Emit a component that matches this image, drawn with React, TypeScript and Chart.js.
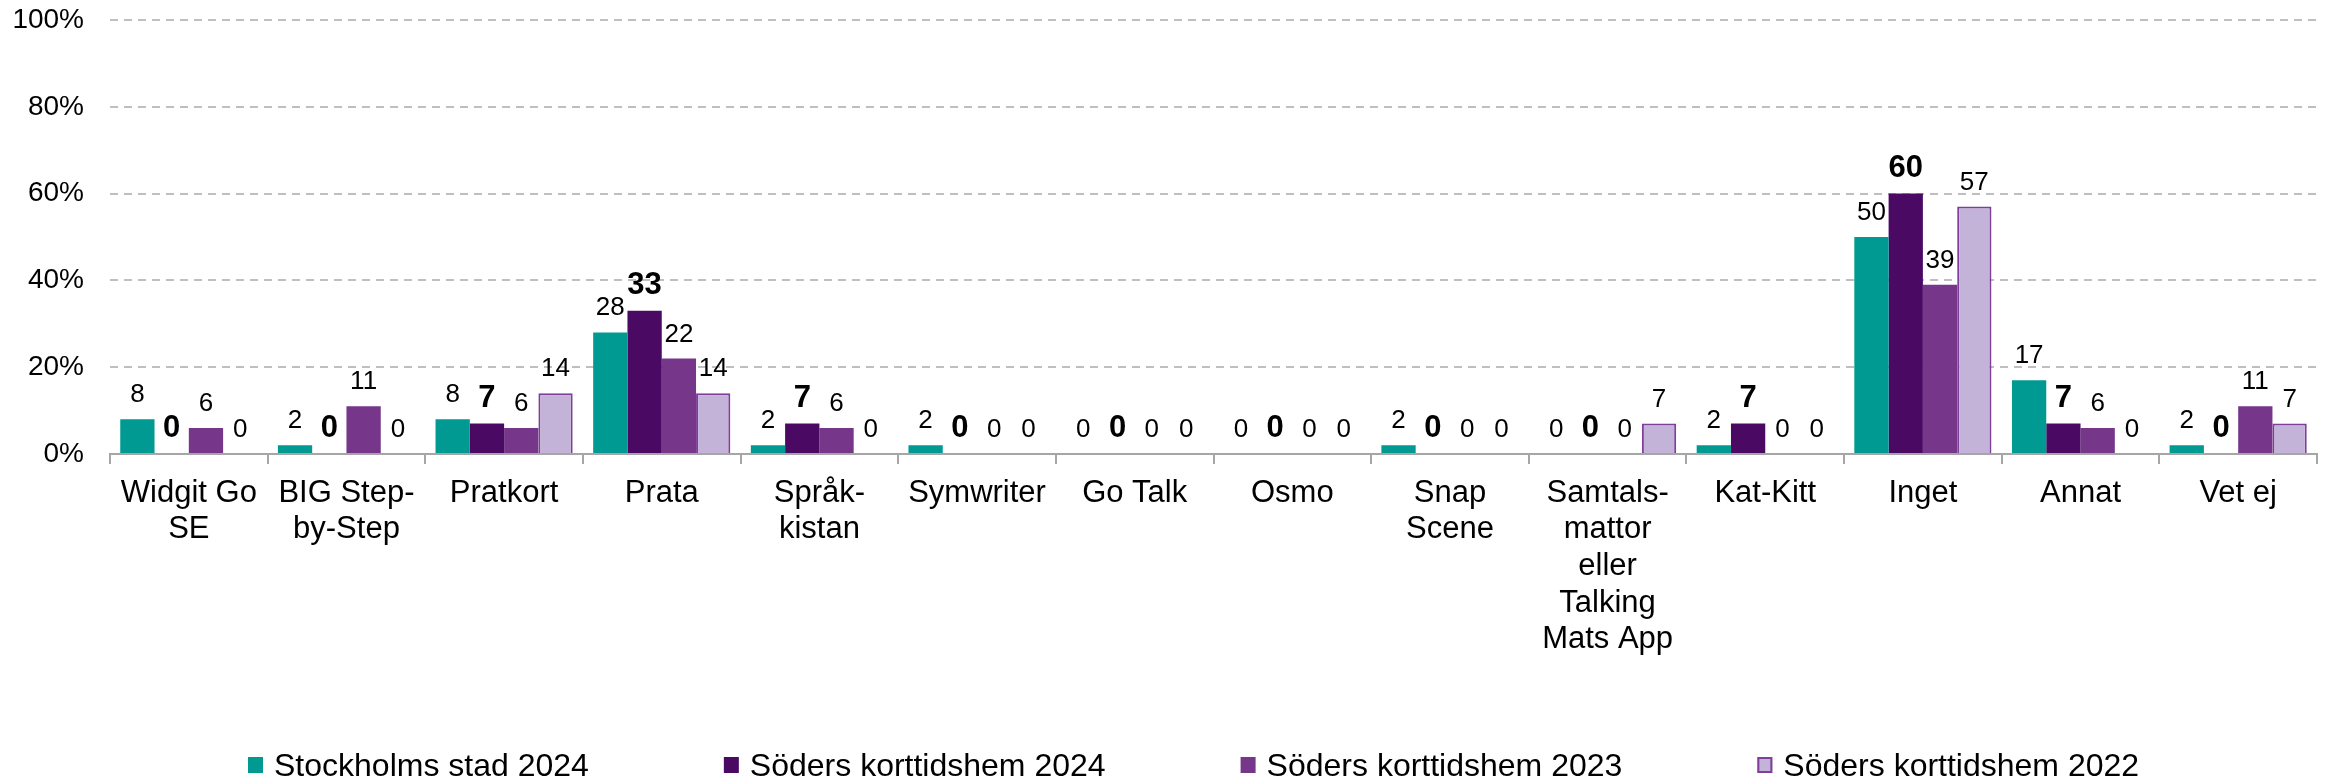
import React, { useEffect, useRef } from "react";
import { Chart, registerables } from "chart.js";

Chart.register(...registerables);

const categories: (string | string[])[] = [
  ["Widgit Go", "SE"],
  ["BIG Step-", "by-Step"],
  "Pratkort",
  "Prata",
  ["Språk-", "kistan"],
  "Symwriter",
  "Go Talk",
  "Osmo",
  ["Snap", "Scene"],
  ["Samtals-", "mattor", "eller", "Talking", "Mats App"],
  "Kat-Kitt",
  "Inget",
  "Annat",
  "Vet ej",
];

const seriesNames = [
  "Stockholms stad 2024",
  "Söders korttidshem 2024",
  "Söders korttidshem 2023",
  "Söders korttidshem 2022",
];

const stockholm2024 = [8, 2, 8, 28, 2, 2, 0, 0, 2, 0, 2, 50, 17, 2];
const soder2024 = [0, 0, 7, 33, 7, 0, 0, 0, 0, 0, 7, 60, 7, 0];
const soder2023 = [6, 11, 6, 22, 6, 0, 0, 0, 0, 0, 0, 39, 6, 11];
const soder2022 = [0, 0, 14, 14, 0, 0, 0, 0, 0, 7, 0, 57, 0, 7];

const yTicks = [0, 20, 40, 60, 80, 100];

const colors = ["#009A93", "#4A0A64", "#76378B", "#C4B3D9"];
const borderColors = ["#009A93", "#4A0A64", "#76378B", "#7E3E99"];

const FONT = "'Liberation Sans', Arial, sans-serif";

const labelPlugin = {
  id: "valueLabels",
  afterDatasetsDraw(chart: any) {
    const ctx = chart.ctx;
    ctx.save();
    ctx.fillStyle = "#000";
    ctx.textAlign = "center";
    ctx.textBaseline = "alphabetic";
    chart.data.datasets.forEach((ds: any, di: number) => {
      const meta = chart.getDatasetMeta(di);
      ctx.font = di === 1 ? `bold 31px ${FONT}` : `26px ${FONT}`;
      meta.data.forEach((bar: any, i: number) => {
        const v = ds.data[i];
        ctx.fillText(String(v), bar.x, bar.y - 17);
      });
    });
    ctx.restore();
  },
};

const legendPlugin = {
  id: "customLegend",
  afterDraw(chart: any) {
    const ctx = chart.ctx;
    ctx.save();
    ctx.font = `32px ${FONT}`;
    ctx.textBaseline = "alphabetic";
    ctx.textAlign = "left";
    let x = 248;
    seriesNames.forEach((name, i) => {
      ctx.fillStyle = colors[i];
      ctx.fillRect(x, 757, 15, 16);
      if (i === 3) {
        ctx.strokeStyle = borderColors[3];
        ctx.lineWidth = 2;
        ctx.strokeRect(x + 1, 758, 13, 14);
      }
      ctx.fillStyle = "#000";
      ctx.fillText(name, x + 26, 776);
      const w = ctx.measureText(name).width;
      x = x + 26 + w + 135;
    });
    ctx.restore();
  },
};

export default function App() {
  const ref = useRef<HTMLCanvasElement | null>(null);

  useEffect(() => {
    if (!ref.current) return;
    const data = [stockholm2024, soder2024, soder2023, soder2022];
    const chart = new Chart(ref.current, {
      type: "bar",
      data: {
        labels: categories,
        datasets: data.map((d, i) => ({
          label: seriesNames[i],
          data: d,
          backgroundColor: colors[i],
          borderColor: borderColors[i],
          borderWidth: i === 3 ? 2 : 0,
          categoryPercentage: 0.87,
          barPercentage: 1,
        })),
      },
      options: {
        responsive: false,
        animation: false,
        devicePixelRatio: 1,
        layout: { padding: { left: 0, right: 11, top: 20, bottom: 0 } },
        plugins: {
          legend: { display: false },
          tooltip: { enabled: false },
        },
        scales: {
          x: {
            afterFit: (scale: any) => {
              scale.height = 324;
              scale.paddingLeft = 0;
              scale.paddingRight = 0;
            },
            grid: {
              display: true,
              drawOnChartArea: false,
              drawTicks: true,
              tickLength: 10,
              color: "#A6A6A6",
              lineWidth: 2,
              offset: true,
            },
            border: { display: true, color: "#A6A6A6", width: 2 },
            ticks: {
              color: "#000",
              font: { family: FONT, size: 31, lineHeight: 1.18 },
              padding: 11,
              maxRotation: 0,
              autoSkip: false,
            },
          },
          y: {
            min: 0,
            max: 100,
            afterFit: (scale: any) => {
              scale.width = 110;
              scale.paddingTop = 0;
              scale.paddingBottom = 0;
            },
            afterBuildTicks: (scale: any) => {
              scale.ticks = yTicks.map((v) => ({ value: v }));
            },
            grid: {
              drawTicks: false,
              color: (c: any) => (c.tick && c.tick.value === 0 ? "rgba(0,0,0,0)" : "#BFBFBF"),
              lineWidth: 2,
            },
            border: { display: false, dash: [8, 6] },
            ticks: {
              color: "#000",
              font: { family: FONT, size: 28 },
              padding: 26,
              callback: (v: any) => v + "%",
            },
          },
        },
      },
      plugins: [labelPlugin, legendPlugin],
    } as any);
    return () => chart.destroy();
  }, []);

  return (
    <div style={{ position: "fixed", left: 0, top: 0, width: 2328, height: 778, background: "#fff" }}>
      <canvas ref={ref} width={2328} height={778} style={{ display: "block", width: 2328, height: 778 }} />
    </div>
  );
}
